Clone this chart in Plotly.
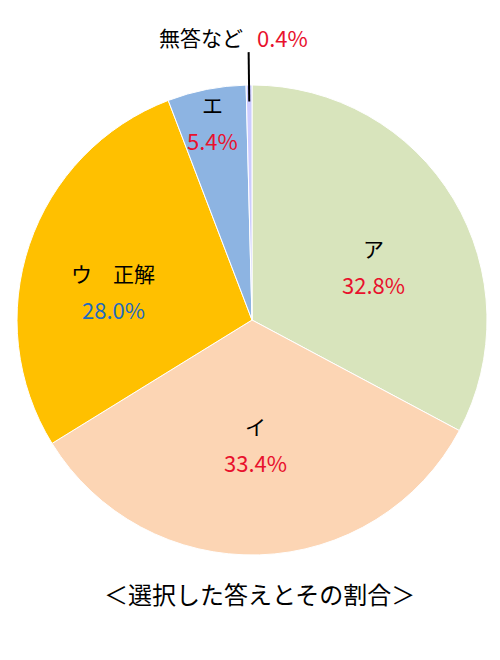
import math
import plotly.graph_objects as go

labels = ["ア", "イ", "ウ　正解", "エ", "無答など"]
values = [32.8, 33.4, 28.0, 5.4, 0.4]
pct_text = ["32.8%", "33.4%", "28.0%", "5.4%", "0.4%"]
colors = ["#D8E4BC", "#FCD5B4", "#FFC000", "#8DB4E2", "#CCCCFF"]
pct_colors = ["#E8112D", "#E8112D", "#1F6BBF", "#E8112D", "#E8112D"]
label_r = [0.564, 0.53, 0.604, 0.86]   # radial position (fraction of radius) of inside labels
label_turn = [6.9, 0.0, -6.9, 0.0]     # angular nudge of inside labels, degrees

OFF = 8  # page body margin in the browser
W, H = 500 - 2 * OFF, 660 - 2 * OFF
CX, CY, R = 252, 320, 235
FONT = "Noto Sans CJK JP, Noto Sans, sans-serif"


def px2paper(x, y):
    return (x - OFF) / W, 1 - (y - OFF) / H


dx0, dy0 = px2paper(CX - R, CY + R)
dx1, dy1 = px2paper(CX + R, CY - R)

fig = go.Figure(go.Pie(
    labels=labels, values=values, sort=False, direction="clockwise", rotation=0,
    marker=dict(colors=colors, line=dict(color="white", width=1)),
    textinfo="none", hoverinfo="skip", showlegend=False,
    domain=dict(x=[dx0, dx1], y=[dy0, dy1]),
))

total = sum(values)
cum = 0
annotations = []
shapes = []


def ann(x, y, text, size, color, xanchor="center"):
    px, py = px2paper(x, y)
    annotations.append(dict(x=px, y=py, xref="paper", yref="paper", text=text,
                            xanchor=xanchor, yanchor="middle", showarrow=False,
                            font=dict(size=size, color=color, family=FONT)))


for i, v in enumerate(values):
    mid = (cum + v / 2) / total * 2 * math.pi
    cum += v
    if i < len(label_r):
        a = mid + math.radians(label_turn[i])
        r = label_r[i] * R
        x = CX + r * math.sin(a)
        y = CY - r * math.cos(a)
        ann(x, y - 18, labels[i], 21, "black")
        ann(x, y + 18, pct_text[i], 22, pct_colors[i])
    else:
        x0 = CX + 0.93 * R * math.sin(mid)
        y0 = CY - 0.93 * R * math.cos(mid)
        x1 = CX + 1.14 * R * math.sin(mid)
        y1 = CY - 1.14 * R * math.cos(mid)
        p0 = px2paper(x0, y0)
        p1 = px2paper(x1, y1)
        shapes.append(dict(type="line", xref="paper", yref="paper", x0=p0[0], y0=p0[1],
                           x1=p1[0], y1=p1[1], line=dict(color="black", width=2)))
        ann(x1 - 4, y1 - 15, labels[i], 21, "black", "right")
        ann(x1 + 6, y1 - 15, pct_text[i], 22, pct_colors[i], "left")

ann(259, 593, "＜選択した答えとその割合＞", 24, "black")

fig.update_layout(width=W, height=H, margin=dict(l=0, r=0, t=0, b=0),
                  paper_bgcolor="white", plot_bgcolor="white",
                  annotations=annotations, shapes=shapes)
fig.write_html("out.html")
